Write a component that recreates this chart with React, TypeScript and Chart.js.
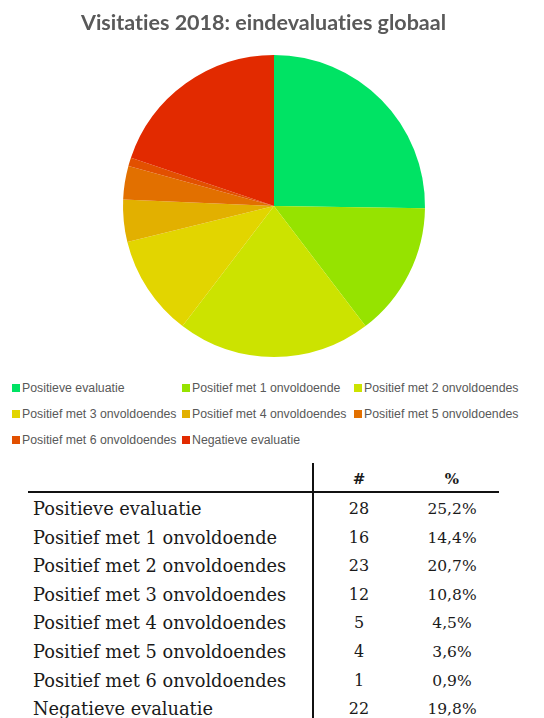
import React, { useEffect, useRef } from "react";
import { Chart, registerables } from "chart.js";

Chart.register(...registerables);

const titleText = "Visitaties 2018: eindevaluaties globaal";
const categories = [
  "Positieve evaluatie",
  "Positief met 1 onvoldoende",
  "Positief met 2 onvoldoendes",
  "Positief met 3 onvoldoendes",
  "Positief met 4 onvoldoendes",
  "Positief met 5 onvoldoendes",
  "Positief met 6 onvoldoendes",
  "Negatieve evaluatie",
];
const counts = [28, 16, 23, 12, 5, 4, 1, 22];
const colors = [
  "#00E364",
  "#96E300",
  "#CCE300",
  "#E2D500",
  "#E2B000",
  "#E27000",
  "#E25000",
  "#E22A00",
];
const headerCount = "#";
const headerPct = "%";

const total = counts.reduce((a, b) => a + b, 0);
const pctLabels = counts.map((v) => (Math.round((v / total) * 1000) / 10).toFixed(1).replace(".", ",") + "%");

export default function App() {
  const ref = useRef<HTMLCanvasElement | null>(null);

  useEffect(() => {
    if (!ref.current) return;
    const chart = new Chart(ref.current, {
      type: "pie",
      data: {
        labels: categories,
        datasets: [
          {
            data: counts,
            backgroundColor: colors,
            borderWidth: 0,
          },
        ],
      },
      options: {
        animation: false,
        responsive: false,
        layout: { padding: { top: 55, bottom: 13, left: 4, right: 0 } },
        plugins: {
          legend: { display: false },
          tooltip: { enabled: false },
          title: { display: false },
        },
      },
    });
    return () => chart.destroy();
  }, []);

  const legendCols = [12, 182, 354];
  const rowTop = 495;
  const rowH = 28.6;
  const tableFont = "'DejaVu Serif', serif";
  const textColor = "#1a1a1a";

  return (
    <div style={{ position: "fixed", left: 0, top: 0, width: 544, height: 718, background: "#fff", overflow: "hidden" }}>
      <canvas ref={ref} width={544} height={370} style={{ position: "absolute", left: 0, top: 0 }} />
      <div
        style={{
          position: "absolute",
          left: 0,
          top: 7,
          width: 527,
          height: 30,
          lineHeight: "30px",
          textAlign: "center",
          fontFamily: "Lato, sans-serif",
          fontWeight: "bold",
          fontSize: 21.5,
          fontVariantLigatures: "none",
          color: "#595959",
          whiteSpace: "nowrap",
        }}
      >
        {titleText}
      </div>
      {categories.map((c, i) => {
        const col = i % 3;
        const row = Math.floor(i / 3);
        return (
          <div
            key={"lg" + i}
            style={{
              position: "absolute",
              left: legendCols[col],
              top: 380 + row * 26,
              height: 16,
              display: "flex",
              alignItems: "center",
              fontFamily: "'Liberation Sans', Arial, sans-serif",
              fontSize: 12.3,
              color: "#595959",
              whiteSpace: "nowrap",
            }}
          >
            <span style={{ display: "inline-block", width: 8, height: 8, background: colors[i], marginRight: 2 }} />
            {c}
          </div>
        );
      })}
      {/* table */}
      <div style={{ position: "absolute", left: 312, top: 463, width: 2, height: 255, background: "#111" }} />
      <div style={{ position: "absolute", left: 28, top: 491, width: 471, height: 2, background: "#111" }} />
      <div
        style={{
          position: "absolute",
          left: 313,
          top: 465,
          width: 92,
          height: 28,
          lineHeight: "28px",
          textAlign: "center",
          fontFamily: tableFont,
          fontWeight: "bold",
          fontSize: 15,
          color: textColor,
        }}
      >
        {headerCount}
      </div>
      <div
        style={{
          position: "absolute",
          left: 405,
          top: 465,
          width: 94,
          height: 28,
          lineHeight: "28px",
          textAlign: "center",
          fontFamily: tableFont,
          fontWeight: "bold",
          fontSize: 15,
          color: textColor,
        }}
      >
        {headerPct}
      </div>
      {categories.map((c, i) => (
        <React.Fragment key={"tr" + i}>
          <div
            style={{
              position: "absolute",
              left: 33,
              top: rowTop + i * rowH,
              height: rowH,
              lineHeight: rowH + "px",
              fontFamily: tableFont,
              fontSize: 17.8,
              color: textColor,
              whiteSpace: "nowrap",
            }}
          >
            {c}
          </div>
          <div
            style={{
              position: "absolute",
              left: 313,
              width: 92,
              top: rowTop + i * rowH,
              height: rowH,
              lineHeight: rowH + "px",
              textAlign: "center",
              fontFamily: tableFont,
              fontSize: 16,
              color: textColor,
            }}
          >
            {counts[i]}
          </div>
          <div
            style={{
              position: "absolute",
              left: 405,
              width: 94,
              top: rowTop + i * rowH,
              height: rowH,
              lineHeight: rowH + "px",
              textAlign: "center",
              fontFamily: tableFont,
              fontSize: 15.5,
              color: textColor,
            }}
          >
            {pctLabels[i]}
          </div>
        </React.Fragment>
      ))}
    </div>
  );
}
